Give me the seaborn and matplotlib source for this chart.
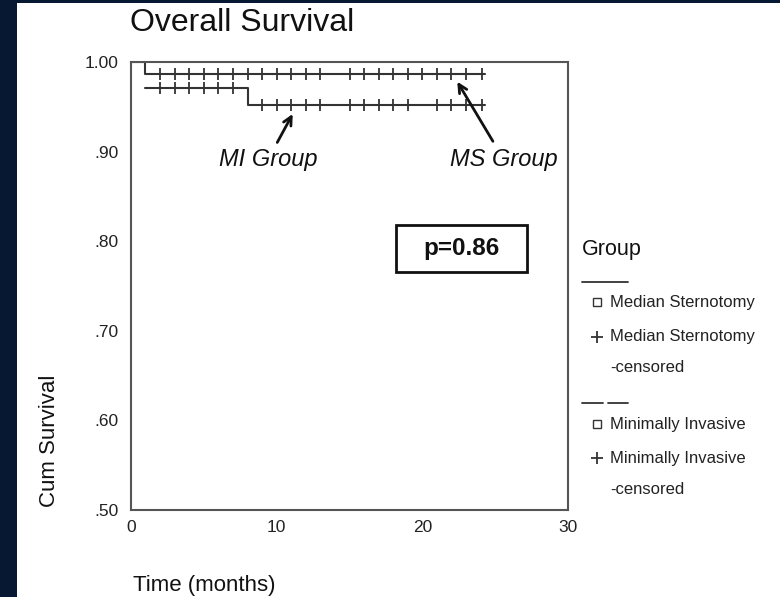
import matplotlib
matplotlib.use("Agg")
import numpy as np
import pandas as pd
import seaborn as sns
import matplotlib.pyplot as plt
from matplotlib.lines import Line2D
from matplotlib.patches import Rectangle

# Kaplan-Meier step curves (time in months, cumulative survival)
ms_time = [0.0, 0.95, 24.3]
ms_surv = [1.0, 0.987, 0.987]
mi_time = [0.95, 8.0, 24.3]
mi_surv = [0.971, 0.952, 0.952]

# censored observations
ms_cens_time = [2, 3, 4, 5, 6, 7, 8, 9, 10, 11, 12, 13, 15, 16, 17, 18, 19, 20, 21, 22, 23, 24.1]
ms_cens_surv = [0.987] * len(ms_cens_time)
mi_cens_time = [2, 3, 4, 5, 6, 7, 9, 10, 11, 12, 13, 15, 16, 17, 18, 19, 21, 22, 23, 24.1]
mi_cens_surv = [0.971] * 6 + [0.952] * 14

y_ticks = [0.5, 0.6, 0.7, 0.8, 0.9, 1.0]
y_tick_labels = [".50", ".60", ".70", ".80", ".90", "1.00"]
x_ticks = [0, 10, 20, 30]

W, H = 780, 597


def px(x, y):
    return x / W, 1 - y / H


sns.set_style("white")
plt.rcParams['font.family'] = ['Liberation Sans', 'DejaVu Sans']

fig = plt.figure(figsize=(7.8, 5.97), dpi=100)
ax = fig.add_axes([131 / W, 1 - 510 / H, (568 - 131) / W, (510 - 62) / H])

curves = pd.concat([
    pd.DataFrame({'time': ms_time, 'surv': ms_surv, 'group': 'MS'}),
    pd.DataFrame({'time': mi_time, 'surv': mi_surv, 'group': 'MI'}),
])
cens = pd.concat([
    pd.DataFrame({'time': ms_cens_time, 'surv': ms_cens_surv, 'group': 'MS'}),
    pd.DataFrame({'time': mi_cens_time, 'surv': mi_cens_surv, 'group': 'MI'}),
])

for g, d in curves.groupby('group'):
    sns.lineplot(data=d, x='time', y='surv', ax=ax, estimator=None, sort=False,
                 drawstyle='steps-post', color='#333333', linewidth=1.5)
ax.plot(cens['time'], cens['surv'], ls='none', marker='|', markersize=8,
        markeredgewidth=1.3, color='#333333')

ax.set_xlim(0, 30)
ax.set_ylim(0.5, 1.0)
ax.set_xticks(x_ticks)
ax.set_yticks(y_ticks)
ax.set_yticklabels(y_tick_labels)
ax.set_xlabel('')
ax.set_ylabel('')
ax.tick_params(axis='both', direction='out', length=3, width=3, color='black',
               labelsize=12.5, labelcolor='#222222', pad=6)
ax.tick_params(axis='x', pad=4)
for s in ax.spines.values():
    s.set_color('#555555')
    s.set_linewidth(1.5)
    s.set_visible(True)

# annotations
ax.annotate('MI Group', xy=(11.1, 0.942), xytext=(9.4, 0.891), fontsize=17,
            style='italic', ha='center', va='center', color='#111111',
            arrowprops=dict(arrowstyle='->', lw=2, color='#111111',
                            shrinkA=2, shrinkB=0, mutation_scale=15))
ax.annotate('MS Group', xy=(22.4, 0.978), xytext=(25.6, 0.891), fontsize=17,
            style='italic', ha='center', va='center', color='#111111',
            arrowprops=dict(arrowstyle='->', lw=2, color='#111111',
                            shrinkA=3, shrinkB=0, mutation_scale=15))
# p-value box
ax.add_patch(Rectangle((18.2, 0.7656), 8.97, 0.0524, fill=False, ec='#111111', lw=2))
ax.text(22.7, 0.792, 'p=0.86', fontsize=17.5, fontweight='bold', ha='center',
        va='center', color='#111111')

# titles and axis labels
fig.text(*px(130, 23), 'Overall Survival', fontsize=23, ha='left', va='center', color='#111111')
fig.text(*px(133, 585), 'Time (months)', fontsize=16, ha='left', va='center', color='#111111')
fig.text(*px(50, 441), 'Cum Survival', fontsize=16, rotation=90, ha='center', va='center',
         color='#111111')

# legend
fig.text(*px(582, 250), 'Group', fontsize=15.5, ha='left', va='center', color='#111111')
fig.add_artist(Line2D([582 / W, 628 / W], [1 - 282 / H] * 2, color='#333333', lw=1.3))
fig.add_artist(Line2D([582 / W, 603 / W], [1 - 403 / H] * 2, color='#333333', lw=1.3))
fig.add_artist(Line2D([608 / W, 628 / W], [1 - 403 / H] * 2, color='#333333', lw=1.3))
entries = [
    ('s', 302, ['Median Sternotomy']),
    ('+', 337, ['Median Sternotomy', '-censored']),
    ('s', 424, ['Minimally Invasive']),
    ('+', 458, ['Minimally Invasive', '-censored']),
]
for mk, y, lines in entries:
    if mk == 's':
        fig.add_artist(Line2D([597 / W], [1 - y / H], marker='s', markersize=6,
                              mfc='white', mec='#333333', mew=1, ls='none'))
    else:
        fig.add_artist(Line2D([597 / W], [1 - y / H], marker='+', markersize=9,
                              mec='#333333', mew=1.3, ls='none'))
    for i, t in enumerate(lines):
        fig.text(*px(610, y + i * 31), t, fontsize=12, ha='left', va='center', color='#222222')

# dark frame on left and top
fig.add_artist(Rectangle((0, 0), 17 / W, 1, transform=fig.transFigure, color='#061832', lw=0))
fig.add_artist(Rectangle((0, 1 - 3 / H), 1, 3 / H, transform=fig.transFigure, color='#061832', lw=0))

fig.savefig('out.png', dpi=100)
